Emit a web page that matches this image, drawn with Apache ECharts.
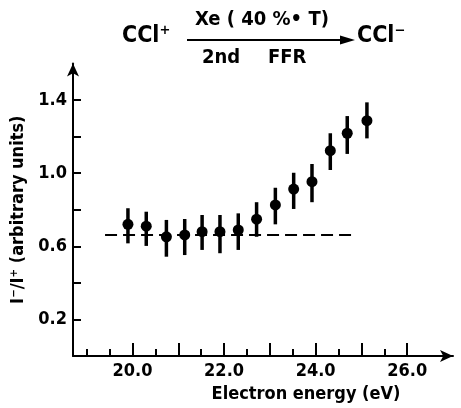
<!DOCTYPE html>
<html lang="en" style="height: 100%">
<head>
  <meta charset="utf-8">
</head>
<body style="height: 100%; margin: 0; background: #fff">
  <div id="container" style="width: 461px; height: 408px"></div>

  <script type="text/javascript" src="https://fastly.jsdelivr.net/npm/echarts@6.0.0/dist/echarts.min.js"></script>
  <script type="text/javascript">
    // electron energy (eV) and I-/I+ ratio
    var energy = [19.9, 20.3, 20.74, 21.14, 21.52, 21.91, 22.31, 22.71, 23.12, 23.52, 23.92, 24.32, 24.69, 25.12];
    var ratio  = [0.72, 0.71, 0.652, 0.662, 0.68, 0.68, 0.689, 0.748, 0.826, 0.913, 0.953, 1.123, 1.218, 1.287];
    var errLow  = [0.616, 0.602, 0.543, 0.552, 0.58, 0.562, 0.58, 0.652, 0.72, 0.804, 0.841, 1.017, 1.105, 1.19];
    var errHigh = [0.808, 0.789, 0.744, 0.749, 0.771, 0.771, 0.78, 0.841, 0.92, 1.002, 1.05, 1.218, 1.312, 1.387];
    // dashed baseline
    var baseX = [19.4, 24.85];
    var baseY = 0.662;

    var xMajorTicks = [20, 21, 22, 23, 24, 25, 26];
    var xMinorTicks = [19, 19.5, 20.5, 21.5, 22.5, 23.5, 24.5, 25.5];
    var xTickLabels = [20, 22, 24, 26];
    var yTicks = [0.2, 0.4, 0.6, 0.8, 1.0, 1.2, 1.4];
    var yTickLabels = [0.2, 0.6, 1.0, 1.4];

    var dom = document.getElementById('container');
    var myChart = echarts.init(dom, null, { renderer: 'canvas' });

    var font = 'DejaVu Sans Condensed';
    var ink = '#000';

    var points = energy.map(function (x, i) { return [x, ratio[i]]; });
    var bars = energy.map(function (x, i) { return [x, errLow[i], errHigh[i]]; });

    function txt(x, y, s, size) {
      return {
        type: 'text', left: x, top: y,
        style: { text: s, fontSize: size, fontFamily: font, fontWeight: 'bold', fill: ink }
      };
    }

    var option = {
      backgroundColor: '#fff',
      animation: false,
      textStyle: { fontFamily: font, color: ink },
      grid: { left: 73, right: 8, top: 63.4, bottom: 52 },
      graphic: [
        txt(122, 25, 'CCl⁺', 23),
        txt(195, 10, 'Xe ( 40 %• T)', 20),
        txt(202, 48, '2nd', 20),
        txt(268, 48, 'FFR', 20),
        { type: 'line', shape: { x1: 187, y1: 40, x2: 345, y2: 40 }, style: { stroke: ink, lineWidth: 2 } },
        { type: 'polygon', shape: { points: [[340, 35.5], [355, 40], [340, 44.5]] }, style: { fill: ink } },
        txt(357, 25, 'CCl⁻', 23)
      ],
      xAxis: [
        {
          type: 'value',
          min: 18.7,
          max: 27,
          name: 'Electron energy (eV)',
          nameLocation: 'middle',
          nameGap: 29,
          nameTextStyle: { fontSize: 18, fontFamily: font, fontWeight: 'bold', color: ink, padding: [0, 0, 0, 86] },
          axisLine: { lineStyle: { color: ink, width: 2 }, symbol: ['none', 'arrow'], symbolSize: [9, 13] },
          axisTick: { inside: true, length: 13, lineStyle: { color: ink, width: 2 }, customValues: xMajorTicks },
          axisLabel: { customValues: xTickLabels, fontSize: 18, fontFamily: font, fontWeight: 'bold', color: ink, margin: 6,
            formatter: function (v) { return v.toFixed(1); } },
          splitLine: { show: false }
        },
        {
          type: 'value',
          min: 18.7,
          max: 27,
          position: 'bottom',
          axisLine: { show: false },
          axisTick: { inside: true, length: 7, lineStyle: { color: ink, width: 2 }, customValues: xMinorTicks },
          axisLabel: { show: false },
          splitLine: { show: false }
        }
      ],
      yAxis: {
        type: 'value',
        min: 0,
        max: 1.6,
        name: 'I⁻/I⁺ (arbitrary units)',
        nameLocation: 'middle',
        nameGap: 44,
        nameTextStyle: { fontSize: 18, fontFamily: font, fontWeight: 'bold', color: ink },
        axisLine: { lineStyle: { color: ink, width: 2 }, symbol: ['none', 'arrow'], symbolSize: [9, 13] },
        axisTick: { inside: true, length: 8, lineStyle: { color: ink, width: 2 }, customValues: yTicks },
        axisLabel: { customValues: yTickLabels, fontSize: 18, fontFamily: font, fontWeight: 'bold', color: ink, margin: 6,
          formatter: function (v) { return v.toFixed(1); } },
        splitLine: { show: false }
      },
      series: [
        {
          type: 'line',
          data: [[baseX[0], baseY], [baseX[1], baseY]],
          symbol: 'none',
          lineStyle: { color: ink, width: 2, type: [12, 6] },
          z: 1
        },
        {
          type: 'custom',
          data: bars,
          renderItem: function (params, api) {
            var a = api.coord([api.value(0), api.value(1)]);
            var b = api.coord([api.value(0), api.value(2)]);
            return {
              type: 'line',
              shape: { x1: a[0], y1: a[1], x2: b[0], y2: b[1] },
              style: { stroke: ink, lineWidth: 3.5 }
            };
          },
          z: 2
        },
        {
          type: 'scatter',
          data: points,
          symbol: 'circle',
          symbolSize: 11,
          itemStyle: { color: ink, opacity: 1 },
          z: 3
        }
      ]
    };

    myChart.setOption(option);
    window.addEventListener('resize', myChart.resize);
  </script>
</body>
</html>
